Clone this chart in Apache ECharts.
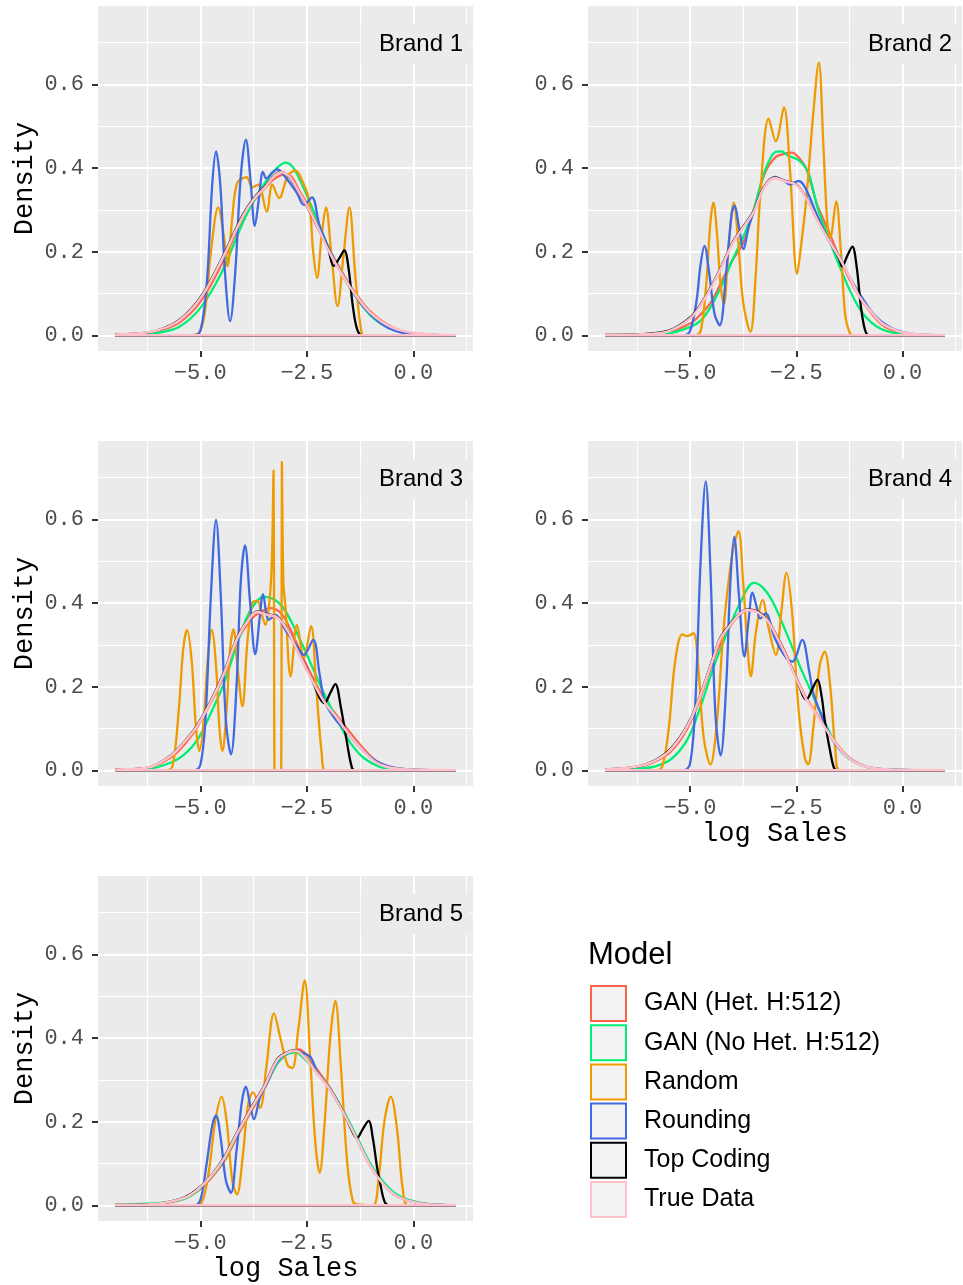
<!DOCTYPE html>
<html>
<head>
<meta charset="utf-8">
<title>Density of log Sales by brand</title>
<script src="https://cdn.jsdelivr.net/npm/echarts@6.0.0/dist/echarts.min.js"></script>
<style>
    body { margin: 0; background: #ffffff; }
    #main { width: 963px; height: 1285px; }
</style>
</head>
<body>
<div id="main"></div>
<script type="text/javascript">
    // density curves, [log sales, density]
    var b1Het = [[-7,0.002],[-6.5,0.004],[-6,0.01],[-5.5,0.03],[-5,0.08],[-4.5,0.17],[-4,0.28],[-3.75,0.32],[-3.5,0.35],[-3.25,0.375],[-3,0.385],[-2.85,0.378],[-2.7,0.35],[-2.5,0.315],[-2.25,0.265],[-2,0.212],[-1.75,0.165],[-1.5,0.122],[-1.25,0.086],[-1,0.056],[-0.75,0.035],[-0.5,0.02],[-0.25,0.01],[0,0.005],[0.5,0.001],[1,0]];
    var b1NoHet = [[-7,0.001],[-6.5,0.002],[-6,0.006],[-5.5,0.02],[-5,0.065],[-4.5,0.15],[-4,0.27],[-3.75,0.32],[-3.5,0.362],[-3.25,0.395],[-3,0.413],[-2.85,0.405],[-2.7,0.38],[-2.5,0.335],[-2.25,0.275],[-2,0.212],[-1.75,0.16],[-1.5,0.115],[-1.25,0.078],[-1,0.047],[-0.75,0.027],[-0.5,0.014],[-0.25,0.007],[0,0.003],[0.5,0],[1,0]];
    var b1Rand = [[-7,0],[-5.3,0],[-5.05,0.004],[-4.9,0.05],[-4.75,0.2],[-4.58,0.306],[-4.45,0.24],[-4.36,0.165],[-4.25,0.28],[-4.13,0.365],[-3.91,0.378],[-3.78,0.354],[-3.64,0.36],[-3.44,0.296],[-3.31,0.36],[-3.15,0.328],[-2.94,0.383],[-2.76,0.394],[-2.61,0.37],[-2.45,0.324],[-2.35,0.2],[-2.26,0.137],[-2.15,0.24],[-2.05,0.306],[-1.92,0.19],[-1.78,0.07],[-1.64,0.19],[-1.5,0.306],[-1.36,0.14],[-1.21,0.004],[-1.1,0],[1,0]];
    var b1Round = [[-7,0],[-5.15,0],[-5,0.01],[-4.85,0.12],[-4.72,0.36],[-4.63,0.44],[-4.53,0.36],[-4.42,0.15],[-4.3,0.034],[-4.18,0.15],[-4.05,0.38],[-3.93,0.468],[-3.82,0.37],[-3.72,0.262],[-3.62,0.33],[-3.53,0.391],[-3.45,0.375],[-3.3,0.39],[-3.19,0.397],[-3,0.378],[-2.73,0.34],[-2.57,0.312],[-2.38,0.33],[-2.2,0.262],[-1.95,0.2],[-1.75,0.16],[-1.48,0.115],[-1.17,0.068],[-0.78,0.03],[-0.4,0.01],[0,0.003],[0.5,0.001],[1,0]];
    var b1Top = [[-7,0.002],[-6.5,0.004],[-6,0.012],[-5.5,0.036],[-5,0.09],[-4.5,0.182],[-4,0.288],[-3.75,0.327],[-3.5,0.354],[-3.25,0.384],[-3.1,0.391],[-2.9,0.377],[-2.7,0.344],[-2.5,0.309],[-2.25,0.259],[-2,0.206],[-1.87,0.166],[-1.75,0.182],[-1.62,0.203],[-1.52,0.16],[-1.42,0.07],[-1.32,0.015],[-1.2,0],[1,0]];
    var b1True = [[-7,0.002],[-6.5,0.004],[-6,0.012],[-5.5,0.035],[-5,0.088],[-4.5,0.18],[-4,0.285],[-3.75,0.325],[-3.5,0.352],[-3.25,0.382],[-3.1,0.39],[-2.9,0.378],[-2.7,0.345],[-2.5,0.31],[-2.25,0.26],[-2,0.205],[-1.75,0.158],[-1.5,0.118],[-1.25,0.082],[-1,0.053],[-0.75,0.033],[-0.5,0.019],[-0.25,0.011],[0,0.006],[0.5,0.001],[1,0]];

    var b2Het = [[-7,0.001],[-6.25,0.002],[-5.5,0.008],[-5,0.028],[-4.75,0.05],[-4.5,0.08],[-4.25,0.13],[-4,0.18],[-3.75,0.22],[-3.5,0.3],[-3.25,0.385],[-3,0.425],[-2.75,0.435],[-2.6,0.437],[-2.4,0.42],[-2.25,0.395],[-2,0.31],[-1.75,0.252],[-1.5,0.19],[-1.25,0.135],[-1,0.09],[-0.75,0.055],[-0.5,0.027],[-0.25,0.012],[0,0.005],[0.5,0.001],[1,0]];
    var b2NoHet = [[-7,0.001],[-6.25,0.002],[-5.5,0.005],[-5,0.02],[-4.75,0.035],[-4.5,0.07],[-4.25,0.12],[-4,0.18],[-3.75,0.235],[-3.5,0.3],[-3.25,0.39],[-3,0.438],[-2.85,0.44],[-2.7,0.43],[-2.5,0.422],[-2.35,0.41],[-2.2,0.385],[-2,0.305],[-1.75,0.235],[-1.5,0.17],[-1.25,0.11],[-1,0.062],[-0.75,0.032],[-0.5,0.015],[-0.25,0.007],[0,0.003],[0.5,0],[1,0]];
    var b2Rand = [[-7,0],[-4.9,0],[-4.75,0.01],[-4.62,0.12],[-4.52,0.27],[-4.45,0.317],[-4.37,0.25],[-4.28,0.12],[-4.2,0.075],[-4.1,0.2],[-3.97,0.317],[-3.87,0.23],[-3.75,0.08],[-3.58,0.008],[-3.45,0.15],[-3.35,0.33],[-3.15,0.518],[-2.98,0.464],[-2.79,0.545],[-2.65,0.4],[-2.48,0.147],[-2.38,0.22],[-2.26,0.33],[-2.1,0.53],[-1.97,0.652],[-1.86,0.45],[-1.77,0.27],[-1.7,0.234],[-1.56,0.32],[-1.45,0.2],[-1.35,0.05],[-1.25,0.008],[-1.15,0],[1,0]];
    var b2Round = [[-7,0],[-5.15,0],[-5,0.01],[-4.85,0.08],[-4.75,0.17],[-4.66,0.214],[-4.55,0.15],[-4.42,0.05],[-4.3,0.024],[-4.15,0.15],[-4.02,0.29],[-3.95,0.31],[-3.85,0.26],[-3.74,0.206],[-3.62,0.26],[-3.5,0.295],[-3.27,0.353],[-3,0.379],[-2.8,0.37],[-2.65,0.361],[-2.45,0.369],[-2.3,0.355],[-2,0.285],[-1.75,0.23],[-1.48,0.187],[-1.25,0.14],[-1.01,0.099],[-0.62,0.044],[-0.23,0.016],[0.2,0.004],[1,0]];
    var b2Top = [[-7,0.001],[-6.25,0.002],[-5.5,0.011],[-5,0.042],[-4.75,0.074],[-4.5,0.117],[-4.25,0.167],[-4,0.222],[-3.75,0.26],[-3.5,0.297],[-3.25,0.356],[-3,0.377],[-2.75,0.369],[-2.5,0.361],[-2.25,0.326],[-2,0.276],[-1.75,0.231],[-1.5,0.185],[-1.42,0.165],[-1.3,0.19],[-1.18,0.212],[-1.08,0.165],[-0.98,0.07],[-0.88,0.012],[-0.78,0],[1,0]];
    var b2True = [[-7,0.001],[-6.25,0.002],[-5.5,0.01],[-5,0.04],[-4.75,0.072],[-4.5,0.115],[-4.25,0.165],[-4,0.22],[-3.75,0.258],[-3.5,0.295],[-3.25,0.355],[-3,0.376],[-2.75,0.368],[-2.5,0.36],[-2.25,0.325],[-2,0.275],[-1.75,0.23],[-1.5,0.188],[-1.25,0.14],[-1,0.09],[-0.75,0.058],[-0.5,0.03],[-0.25,0.016],[0,0.007],[0.5,0.001],[1,0]];

    var b3Het = [[-7,0.002],[-6.25,0.005],[-5.7,0.03],[-5.37,0.062],[-5.06,0.105],[-4.75,0.162],[-4.44,0.228],[-4.13,0.31],[-3.82,0.36],[-3.6,0.378],[-3.35,0.388],[-3.1,0.375],[-2.9,0.34],[-2.7,0.295],[-2.41,0.232],[-2.1,0.172],[-1.79,0.13],[-1.48,0.09],[-1.17,0.052],[-0.86,0.022],[-0.4,0.005],[0.2,0.001],[1,0]];
    var b3NoHet = [[-7,0.001],[-6.25,0.003],[-5.7,0.018],[-5.37,0.038],[-5.06,0.074],[-4.75,0.137],[-4.44,0.209],[-4.13,0.304],[-3.82,0.383],[-3.5,0.415],[-3.27,0.409],[-3.04,0.387],[-2.73,0.328],[-2.41,0.256],[-2.1,0.185],[-1.79,0.121],[-1.48,0.066],[-1.17,0.03],[-0.7,0.006],[0,0.001],[1,0]];
    var b3Rand = [[-7,0],[-5.8,0],[-5.65,0.01],[-5.5,0.15],[-5.4,0.29],[-5.31,0.336],[-5.2,0.26],[-5.1,0.1],[-5.02,0.046],[-4.92,0.12],[-4.82,0.27],[-4.73,0.336],[-4.63,0.25],[-4.55,0.1],[-4.48,0.046],[-4.38,0.15],[-4.3,0.29],[-4.22,0.337],[-4.12,0.24],[-4.01,0.153],[-3.9,0.3],[-3.78,0.4],[-3.66,0.405],[-3.55,0.37],[-3.47,0.348],[-3.38,0.4],[-3.32,0.5],[-3.28,0.717],[-3.268,0.3],[-3.26,0],[-3.1,0],[-3.092,0.3],[-3.085,0.737],[-3.05,0.45],[-3,0.39],[-2.88,0.225],[-2.73,0.348],[-2.57,0.27],[-2.4,0.345],[-2.28,0.2],[-2.15,0.04],[-2.06,0],[1,0]];
    var b3Round = [[-7,0],[-5.15,0],[-5,0.012],[-4.88,0.12],[-4.75,0.42],[-4.63,0.599],[-4.52,0.42],[-4.4,0.12],[-4.28,0.038],[-4.15,0.2],[-4.05,0.45],[-3.95,0.538],[-3.83,0.4],[-3.71,0.278],[-3.6,0.37],[-3.53,0.421],[-3.39,0.36],[-3.23,0.371],[-3,0.335],[-2.73,0.296],[-2.57,0.276],[-2.35,0.312],[-2.2,0.23],[-2.08,0.165],[-1.85,0.125],[-1.64,0.1],[-1.17,0.046],[-0.8,0.018],[-0.3,0.004],[1,0]];
    var b3Top = [[-7,0.002],[-6.25,0.006],[-5.7,0.035],[-5.37,0.069],[-5.06,0.11],[-4.75,0.167],[-4.44,0.235],[-4.13,0.318],[-3.82,0.368],[-3.66,0.38],[-3.43,0.373],[-3.2,0.367],[-2.96,0.337],[-2.73,0.289],[-2.41,0.223],[-2.08,0.161],[-1.95,0.185],[-1.83,0.206],[-1.7,0.15],[-1.57,0.074],[-1.44,0.006],[-1.36,0],[1,0]];
    var b3True = [[-7,0.002],[-6.25,0.006],[-5.7,0.034],[-5.37,0.068],[-5.06,0.108],[-4.75,0.165],[-4.44,0.233],[-4.13,0.316],[-3.82,0.367],[-3.66,0.379],[-3.43,0.372],[-3.2,0.366],[-2.96,0.336],[-2.73,0.288],[-2.41,0.222],[-2.1,0.165],[-1.79,0.125],[-1.48,0.082],[-1.17,0.046],[-0.86,0.018],[-0.4,0.004],[0.2,0.001],[1,0]];

    var b4Het = [[-7,0.002],[-6.25,0.007],[-5.84,0.02],[-5.45,0.045],[-5.06,0.1],[-4.75,0.175],[-4.44,0.265],[-4.2,0.32],[-3.9,0.365],[-3.6,0.385],[-3.4,0.38],[-3.19,0.362],[-2.96,0.322],[-2.73,0.276],[-2.49,0.22],[-2.26,0.172],[-1.95,0.125],[-1.64,0.076],[-1.32,0.036],[-1.01,0.015],[-0.62,0.004],[0,0.001],[1,0]];
    var b4NoHet = [[-7,0.001],[-6.25,0.004],[-5.84,0.009],[-5.45,0.026],[-5.06,0.074],[-4.75,0.153],[-4.44,0.248],[-4.13,0.328],[-3.82,0.4],[-3.5,0.448],[-3.27,0.435],[-3.04,0.4],[-2.73,0.328],[-2.41,0.248],[-2.1,0.177],[-1.79,0.106],[-1.48,0.05],[-1.17,0.022],[-0.7,0.005],[0,0.001],[1,0]];
    var b4Rand = [[-7,0],[-5.8,0],[-5.65,0.01],[-5.5,0.1],[-5.35,0.26],[-5.18,0.325],[-5.06,0.321],[-4.92,0.328],[-4.8,0.24],[-4.68,0.08],[-4.52,0.014],[-4.38,0.1],[-4.2,0.35],[-4,0.52],[-3.86,0.572],[-3.75,0.45],[-3.65,0.3],[-3.57,0.225],[-3.45,0.33],[-3.29,0.407],[-3.15,0.34],[-2.98,0.276],[-2.85,0.38],[-2.73,0.472],[-2.6,0.38],[-2.45,0.15],[-2.3,0.03],[-2.22,0.014],[-2.1,0.1],[-1.95,0.25],[-1.83,0.284],[-1.7,0.2],[-1.58,0.05],[-1.48,0],[1,0]];
    var b4Round = [[-7,0],[-5.15,0],[-5,0.015],[-4.88,0.15],[-4.75,0.5],[-4.63,0.691],[-4.52,0.48],[-4.4,0.13],[-4.28,0.036],[-4.15,0.2],[-4.05,0.45],[-3.96,0.558],[-3.85,0.42],[-3.72,0.272],[-3.62,0.36],[-3.53,0.425],[-3.43,0.39],[-3.35,0.363],[-3.22,0.375],[-3,0.315],[-2.73,0.268],[-2.59,0.26],[-2.36,0.312],[-2.2,0.24],[-2.1,0.185],[-1.9,0.13],[-1.64,0.072],[-1.32,0.034],[-1.01,0.014],[-0.6,0.004],[1,0]];
    var b4Top = [[-7,0.002],[-6.25,0.009],[-5.84,0.023],[-5.45,0.052],[-5.06,0.108],[-4.75,0.183],[-4.44,0.274],[-4.28,0.318],[-4.05,0.35],[-3.82,0.376],[-3.66,0.384],[-3.43,0.38],[-3.19,0.361],[-2.96,0.321],[-2.73,0.273],[-2.49,0.218],[-2.26,0.169],[-2.12,0.195],[-2,0.217],[-1.9,0.175],[-1.83,0.12],[-1.71,0.05],[-1.6,0.003],[-1.5,0],[1,0]];
    var b4True = [[-7,0.002],[-6.25,0.009],[-5.84,0.022],[-5.45,0.05],[-5.06,0.106],[-4.75,0.181],[-4.44,0.272],[-4.28,0.316],[-4.05,0.348],[-3.82,0.375],[-3.66,0.383],[-3.43,0.379],[-3.19,0.36],[-2.96,0.32],[-2.73,0.272],[-2.49,0.217],[-2.26,0.169],[-1.95,0.122],[-1.64,0.074],[-1.32,0.034],[-1.01,0.014],[-0.62,0.004],[0,0.001],[1,0]];

    var b5Het = [[-7,0.001],[-6.25,0.002],[-5.84,0.005],[-5.37,0.016],[-5.06,0.034],[-4.75,0.065],[-4.44,0.105],[-4.13,0.165],[-3.82,0.222],[-3.5,0.278],[-3.19,0.34],[-2.96,0.362],[-2.7,0.373],[-2.5,0.36],[-2.26,0.325],[-1.95,0.28],[-1.64,0.222],[-1.32,0.158],[-1.01,0.096],[-0.7,0.052],[-0.39,0.023],[0,0.009],[0.39,0.002],[1,0]];
    var b5NoHet = [[-7,0.002],[-6.25,0.004],[-5.84,0.007],[-5.37,0.016],[-5.06,0.035],[-4.75,0.068],[-4.44,0.11],[-4.13,0.17],[-3.82,0.228],[-3.5,0.28],[-3.19,0.34],[-2.96,0.362],[-2.76,0.366],[-2.57,0.352],[-2.26,0.318],[-1.95,0.278],[-1.64,0.226],[-1.32,0.163],[-1.01,0.1],[-0.7,0.056],[-0.39,0.026],[0,0.01],[0.39,0.003],[1,0]];
    var b5Rand = [[-7,0],[-5.1,0],[-4.95,0.01],[-4.8,0.08],[-4.65,0.2],[-4.5,0.26],[-4.38,0.2],[-4.25,0.06],[-4.14,0.026],[-4,0.12],[-3.88,0.24],[-3.76,0.27],[-3.6,0.233],[-3.45,0.33],[-3.27,0.459],[-3.12,0.4],[-2.95,0.335],[-2.84,0.328],[-2.7,0.42],[-2.55,0.538],[-2.42,0.35],[-2.3,0.15],[-2.2,0.078],[-2.08,0.2],[-1.95,0.4],[-1.83,0.489],[-1.7,0.33],[-1.55,0.1],[-1.42,0.01],[-1.32,0.002],[-0.95,0],[-0.82,0.06],[-0.68,0.2],[-0.53,0.26],[-0.38,0.18],[-0.25,0.04],[-0.12,0],[1,0]];
    var b5Round = [[-7,0],[-5.15,0],[-5,0.012],[-4.85,0.1],[-4.72,0.19],[-4.63,0.215],[-4.52,0.16],[-4.4,0.06],[-4.28,0.03],[-4.15,0.13],[-4.02,0.25],[-3.93,0.284],[-3.83,0.24],[-3.74,0.206],[-3.6,0.258],[-3.4,0.3],[-3.19,0.345],[-2.96,0.364],[-2.76,0.37],[-2.6,0.365],[-2.41,0.354],[-2.26,0.32],[-1.95,0.276],[-1.64,0.221],[-1.32,0.157],[-1.01,0.094],[-0.7,0.05],[-0.39,0.022],[0,0.008],[0.39,0.002],[1,0]];
    var b5Top = [[-7,0.001],[-6.25,0.002],[-5.84,0.006],[-5.37,0.019],[-5.06,0.039],[-4.75,0.071],[-4.44,0.115],[-4.13,0.175],[-3.82,0.231],[-3.5,0.286],[-3.19,0.35],[-2.96,0.366],[-2.76,0.371],[-2.57,0.357],[-2.26,0.317],[-1.95,0.277],[-1.64,0.222],[-1.4,0.17],[-1.32,0.161],[-1.2,0.18],[-1.05,0.202],[-0.95,0.16],[-0.85,0.09],[-0.78,0.054],[-0.68,0.01],[-0.58,0],[1,0]];
    var b5True = [[-7,0.001],[-6.25,0.002],[-5.84,0.006],[-5.37,0.018],[-5.06,0.038],[-4.75,0.07],[-4.44,0.113],[-4.13,0.173],[-3.82,0.229],[-3.5,0.284],[-3.19,0.348],[-2.96,0.365],[-2.76,0.37],[-2.57,0.356],[-2.26,0.316],[-1.95,0.276],[-1.64,0.221],[-1.32,0.157],[-1.01,0.094],[-0.7,0.05],[-0.39,0.022],[0,0.008],[0.39,0.002],[1,0]];

    var brands = ['Brand 1', 'Brand 2', 'Brand 3', 'Brand 4', 'Brand 5'];
    var models = ['GAN (Het. H:512)', 'GAN (No Het. H:512)', 'Random', 'Rounding', 'Top Coding', 'True Data'];
    var curves = [
        [b1Het, b1NoHet, b1Rand, b1Round, b1Top, b1True],
        [b2Het, b2NoHet, b2Rand, b2Round, b2Top, b2True],
        [b3Het, b3NoHet, b3Rand, b3Round, b3Top, b3True],
        [b4Het, b4NoHet, b4Rand, b4Round, b4Top, b4True],
        [b5Het, b5NoHet, b5Rand, b5Round, b5Top, b5True]
    ];
    var xMajor = [-5, -2.5, 0];
    var xMinor = [-6.25, -3.75, -1.25, 1.25];
    var yMajor = [0, 0.2, 0.4, 0.6];
    var yMinor = [0.1, 0.3, 0.5, 0.7];

    var colors = ['#FF6347', '#00EE76', '#EE9A00', '#4169E1', '#000000', '#FFC0CB'];
    var monoFont = '"Liberation Mono", "DejaVu Sans Mono", monospace';
    var sansFont = '"Liberation Sans", Arial, sans-serif';

    // panel boxes, facet_wrap with 2 columns
    var panels = [
        {left: 98, top: 6, width: 375},
        {left: 588, top: 6, width: 374},
        {left: 98, top: 441, width: 375},
        {left: 588, top: 441, width: 374},
        {left: 98, top: 876, width: 375}
    ];
    var panelHeight = 345;

    function xLabel(v) {
        return (v < 0 ? '\u2212' : '') + Math.abs(v).toFixed(1);
    }

    var grids = [], xAxes = [], yAxes = [], series = [], titles = [];

    panels.forEach(function (p, i) {
        grids.push({
            left: p.left, top: p.top, width: p.width, height: panelHeight,
            show: true, backgroundColor: '#EBEBEB', borderWidth: 0,
            containLabel: false, outerBoundsMode: 'none'
        });

        // major axis: carries ticks, labels and the thick grid lines
        xAxes.push({
            type: 'value', gridIndex: i, min: -7.4, max: 1.4, position: 'bottom',
            name: (i === 3 || i === 4) ? 'log Sales' : '',
            nameLocation: 'middle', nameGap: 34,
            nameTextStyle: {fontFamily: monoFont, fontSize: 27, color: '#000'},
            axisLine: {show: false, onZero: false},
            axisTick: {show: true, length: 6, customValues: xMajor, lineStyle: {color: '#333333', width: 2}},
            axisLabel: {customValues: xMajor, formatter: xLabel, fontFamily: monoFont, fontSize: 22, color: '#4D4D4D', margin: 11},
            splitLine: {show: true, lineStyle: {color: '#FFFFFF', width: 2}}
        });
        // minor axis: only the thin grid lines
        xAxes.push({
            type: 'value', gridIndex: i, min: -7.4, max: 1.4, position: 'bottom',
            axisLine: {show: false, onZero: false},
            axisTick: {show: false, customValues: xMinor},
            axisLabel: {show: false},
            splitLine: {show: true, lineStyle: {color: '#FFFFFF', width: 1}}
        });

        yAxes.push({
            type: 'value', gridIndex: i, min: -0.0375, max: 0.7875, position: 'left',
            name: (i % 2 === 0) ? 'Density' : '',
            nameLocation: 'middle', nameGap: 60, nameRotate: 90,
            nameTextStyle: {fontFamily: monoFont, fontSize: 27, color: '#000'},
            axisLine: {show: false, onZero: false},
            axisTick: {show: true, length: 6, customValues: yMajor, lineStyle: {color: '#333333', width: 2}},
            axisLabel: {customValues: yMajor, formatter: function (v) { return v.toFixed(1); }, fontFamily: monoFont, fontSize: 22, color: '#4D4D4D', margin: 14},
            splitLine: {show: true, lineStyle: {color: '#FFFFFF', width: 2}}
        });
        yAxes.push({
            type: 'value', gridIndex: i, min: -0.0375, max: 0.7875, position: 'left',
            axisLine: {show: false, onZero: false},
            axisTick: {show: false, customValues: yMinor},
            axisLabel: {show: false},
            splitLine: {show: true, lineStyle: {color: '#FFFFFF', width: 1}}
        });

        // one closed outline per model, drawn in legend order
        curves[i].forEach(function (curve, m) {
            series.push({
                name: models[m],
                type: 'line',
                xAxisIndex: 2 * i,
                yAxisIndex: 2 * i,
                data: curve.concat([[1, 0], [-7, 0]]),
                smooth: 0.35,
                showSymbol: false,
                symbol: 'none',
                silent: true,
                itemStyle: {color: colors[m]},
                lineStyle: {color: colors[m], width: m === 5 ? 2.6 : 2.3}
            });
        });

        // brand label in the top right corner of the panel
        titles.push({
            text: brands[i],
            right: 963 - (p.left + p.width) + 3,
            top: p.top + 18,
            padding: [8, 7, 8, 18],
            backgroundColor: '#EBEBEB',
            textStyle: {fontFamily: sansFont, fontSize: 24, fontWeight: 'normal', color: '#000', lineHeight: 24}
        });
    });

    titles.push({
        text: 'Model',
        left: 588, top: 940, padding: 0,
        textStyle: {fontFamily: sansFont, fontSize: 31, fontWeight: 'normal', color: '#000', lineHeight: 31}
    });

    // legend keys: grey box outlined in the model colour
    var legendData = models.map(function (name, m) {
        return {name: name, icon: 'rect', itemStyle: {color: '#F2F2F2', borderColor: colors[m], borderWidth: 2}};
    });

    var myChart = echarts.init(document.getElementById('main'), null, {renderer: 'canvas'});

    var option = {
        animation: false,
        backgroundColor: '#FFFFFF',
        title: titles,
        legend: {
            data: legendData,
            orient: 'vertical',
            left: 590, top: 985,
            padding: 0,
            itemWidth: 35, itemHeight: 35, itemGap: 2.2,
            icon: 'rect',
            selectedMode: false,
            textStyle: {fontFamily: sansFont, fontSize: 25, color: '#000', padding: [4, 0, 0, 13]}
        },
        grid: grids,
        xAxis: xAxes,
        yAxis: yAxes,
        series: series
    };

    myChart.setOption(option);
</script>
</body>
</html>
